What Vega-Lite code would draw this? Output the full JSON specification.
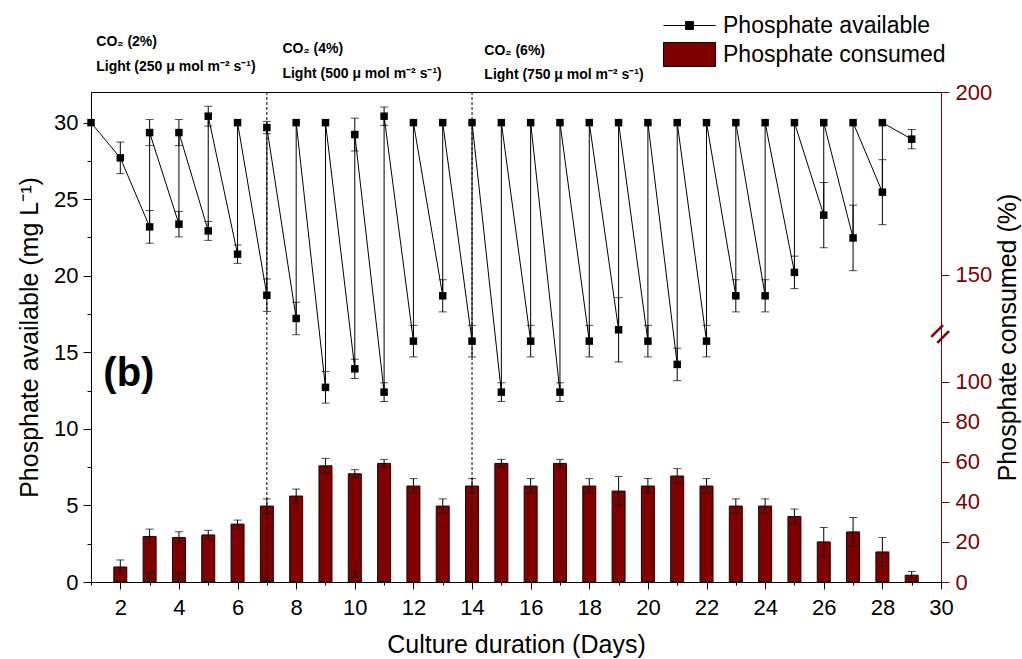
{
  "$schema": "https://vega.github.io/schema/vega-lite/v6.json",
  "width": 850,
  "height": 490,
  "autosize": "none",
  "padding": {"left": 91, "top": 92, "right": 81, "bottom": 77},
  "config": {
    "font": "Liberation Sans",
    "view": {"stroke": "black", "strokeWidth": 1},
    "axis": {
      "grid": false,
      "labelFontSize": 22,
      "titleFontSize": 25,
      "titleFontWeight": "normal",
      "labelColor": "black",
      "titleColor": "black",
      "tickColor": "black",
      "domainColor": "black",
      "labelOverlap": false,
      "labelFlush": false,
      "labelBound": false
    }
  },
  "datasets": {
    "available": [
      {"n": 1, "day": 1, "p": 30.0, "err": 0},
      {"n": 2, "day": 2, "p": 27.70, "err": 1.03},
      {"n": 3, "day": 3, "p": 23.19, "err": 1.07},
      {"n": 4, "day": 3, "p": 29.35, "err": 0.85},
      {"n": 5, "day": 4, "p": 23.37, "err": 0.83},
      {"n": 6, "day": 4, "p": 29.35, "err": 0.85},
      {"n": 7, "day": 5, "p": 22.93, "err": 0.62},
      {"n": 8, "day": 5, "p": 30.42, "err": 0.65},
      {"n": 9, "day": 6, "p": 21.41, "err": 0.60},
      {"n": 10, "day": 6, "p": 30.0, "err": 0},
      {"n": 11, "day": 7, "p": 18.73, "err": 1.06},
      {"n": 12, "day": 7, "p": 29.68, "err": 0.40},
      {"n": 13, "day": 8, "p": 17.21, "err": 1.06},
      {"n": 14, "day": 8, "p": 30.0, "err": 0},
      {"n": 15, "day": 9, "p": 12.71, "err": 1.03},
      {"n": 16, "day": 9, "p": 30.0, "err": 0},
      {"n": 17, "day": 10, "p": 13.92, "err": 0.63},
      {"n": 18, "day": 10, "p": 29.22, "err": 1.07},
      {"n": 19, "day": 11, "p": 12.40, "err": 0.61},
      {"n": 20, "day": 11, "p": 30.42, "err": 0.60},
      {"n": 21, "day": 12, "p": 15.73, "err": 1.03},
      {"n": 22, "day": 12, "p": 30.0, "err": 0},
      {"n": 23, "day": 13, "p": 18.69, "err": 1.05},
      {"n": 24, "day": 13, "p": 30.0, "err": 0},
      {"n": 25, "day": 14, "p": 15.73, "err": 1.03},
      {"n": 26, "day": 14, "p": 30.0, "err": 0},
      {"n": 27, "day": 15, "p": 12.40, "err": 0.61},
      {"n": 28, "day": 15, "p": 30.0, "err": 0},
      {"n": 29, "day": 16, "p": 15.73, "err": 1.03},
      {"n": 30, "day": 16, "p": 30.0, "err": 0},
      {"n": 31, "day": 17, "p": 12.40, "err": 0.61},
      {"n": 32, "day": 17, "p": 30.0, "err": 0},
      {"n": 33, "day": 18, "p": 15.73, "err": 1.03},
      {"n": 34, "day": 18, "p": 30.0, "err": 0},
      {"n": 35, "day": 19, "p": 16.47, "err": 2.10},
      {"n": 36, "day": 19, "p": 30.0, "err": 0},
      {"n": 37, "day": 20, "p": 15.73, "err": 1.03},
      {"n": 38, "day": 20, "p": 30.0, "err": 0},
      {"n": 39, "day": 21, "p": 14.21, "err": 1.06},
      {"n": 40, "day": 21, "p": 30.0, "err": 0},
      {"n": 41, "day": 22, "p": 15.73, "err": 1.03},
      {"n": 42, "day": 22, "p": 30.0, "err": 0},
      {"n": 43, "day": 23, "p": 18.69, "err": 1.05},
      {"n": 44, "day": 23, "p": 30.0, "err": 0},
      {"n": 45, "day": 24, "p": 18.69, "err": 1.05},
      {"n": 46, "day": 24, "p": 30.0, "err": 0},
      {"n": 47, "day": 25, "p": 20.22, "err": 1.06},
      {"n": 48, "day": 25, "p": 30.0, "err": 0},
      {"n": 49, "day": 26, "p": 23.96, "err": 2.13},
      {"n": 50, "day": 26, "p": 30.0, "err": 0},
      {"n": 51, "day": 27, "p": 22.47, "err": 2.14},
      {"n": 52, "day": 27, "p": 30.0, "err": 0},
      {"n": 53, "day": 28, "p": 25.46, "err": 2.12},
      {"n": 54, "day": 28, "p": 30.0, "err": 0},
      {"n": 55, "day": 29, "p": 28.92, "err": 0.63}
    ],
    "consumed": [
      {"day": 2, "c": 7.5, "err": 3.5, "phase": "uptake"},
      {"day": 3, "c": 22.7, "err": 3.7, "phase": "uptake"},
      {"day": 4, "c": 22.2, "err": 2.9, "phase": "uptake"},
      {"day": 5, "c": 23.5, "err": 2.3, "phase": "uptake"},
      {"day": 6, "c": 28.9, "err": 2.0, "phase": "uptake"},
      {"day": 7, "c": 37.9, "err": 3.6, "phase": "uptake"},
      {"day": 8, "c": 42.9, "err": 3.5, "phase": "uptake"},
      {"day": 9, "c": 58.0, "err": 3.7, "phase": "uptake"},
      {"day": 10, "c": 54.0, "err": 2.1, "phase": "uptake"},
      {"day": 11, "c": 59.2, "err": 2.0, "phase": "uptake"},
      {"day": 12, "c": 47.9, "err": 3.7, "phase": "uptake"},
      {"day": 13, "c": 37.9, "err": 3.6, "phase": "uptake"},
      {"day": 14, "c": 47.9, "err": 3.7, "phase": "uptake"},
      {"day": 15, "c": 59.2, "err": 2.0, "phase": "uptake"},
      {"day": 16, "c": 47.9, "err": 3.7, "phase": "uptake"},
      {"day": 17, "c": 59.2, "err": 2.0, "phase": "uptake"},
      {"day": 18, "c": 47.9, "err": 3.7, "phase": "uptake"},
      {"day": 19, "c": 45.4, "err": 7.3, "phase": "uptake"},
      {"day": 20, "c": 47.9, "err": 3.7, "phase": "uptake"},
      {"day": 21, "c": 52.9, "err": 3.7, "phase": "uptake"},
      {"day": 22, "c": 47.9, "err": 3.7, "phase": "uptake"},
      {"day": 23, "c": 37.9, "err": 3.6, "phase": "uptake"},
      {"day": 24, "c": 37.9, "err": 3.6, "phase": "uptake"},
      {"day": 25, "c": 32.7, "err": 3.7, "phase": "uptake"},
      {"day": 26, "c": 20.0, "err": 7.2, "phase": "uptake"},
      {"day": 27, "c": 25.0, "err": 7.2, "phase": "uptake"},
      {"day": 28, "c": 15.0, "err": 7.2, "phase": "uptake"},
      {"day": 29, "c": 3.4, "err": 1.9, "phase": "uptake"},
      {"day": 3, "c": 3.2, "err": 1.5, "phase": "refill"},
      {"day": 4, "c": 3.2, "err": 1.5, "phase": "refill"},
      {"day": 7, "c": 1.4, "err": 0.75, "phase": "refill"},
      {"day": 10, "c": 4.0, "err": 1.65, "phase": "refill"}
    ],
    "notes": [
      {"day": 1.18, "level": 35.25, "label": "CO₂ (2%)"},
      {"day": 1.18, "level": 33.62, "label": "Light (250 μ mol m⁻² s⁻¹)"},
      {"day": 7.53, "level": 34.79, "label": "CO₂ (4%)"},
      {"day": 7.53, "level": 33.16, "label": "Light (500 μ mol m⁻² s⁻¹)"},
      {"day": 14.42, "level": 34.66, "label": "CO₂ (6%)"},
      {"day": 14.42, "level": 33.09, "label": "Light (750 μ mol m⁻² s⁻¹)"}
    ]
  },
  "encoding": {
    "x": {
      "field": "day",
      "type": "quantitative",
      "scale": {"domain": [1, 30], "nice": false, "zero": false, "padding": 0},
      "axis": {
        "title": "Culture duration (Days)",
        "values": [1, 2, 3, 4, 5, 6, 7, 8, 9, 10, 11, 12, 13, 14, 15, 16, 17, 18, 19, 20, 21, 22, 23, 24, 25, 26, 27, 28, 29, 30],
        "labelExpr": "datum.value % 2 == 0 ? datum.label : ''",
        "tickSize": {"condition": {"test": "datum.value % 2 == 1", "value": 3}, "value": 7},
        "labelPadding": 8,
        "titlePadding": 14
      }
    }
  },
  "layer": [
    {
      "data": {"name": "consumed"},
      "layer": [
        {
          "transform": [{"filter": "datum.phase == 'uptake'"}],
          "mark": {"type": "bar", "size": 13, "stroke": "#1a0505", "strokeWidth": 1},
          "encoding": {
            "y": {
              "field": "c",
              "type": "quantitative",
              "title": "Phosphate consumed (%)",
              "stack": null,
              "scale": {"domain": [0, 123.3, 133.6, 200], "range": [490, 243, 243, 0], "nice": false, "zero": false},
              "axis": {
                "orient": "right",
                "values": [0, 10, 20, 30, 40, 50, 60, 70, 80, 90, 100, 110, 150, 175, 200],
                "labelExpr": "indexof([0, 20, 40, 60, 80, 100, 150, 200], datum.value) >= 0 ? datum.label : ''",
                "tickSize": {"condition": {"test": "indexof([0, 20, 40, 60, 80, 100, 150, 200], datum.value) < 0", "value": 4}, "value": 8},
                "domainColor": "#800000",
                "tickColor": "#800000",
                "labelColor": "#800000",
                "labelPadding": 6,
                "titleAngle": 270,
                "titleBaseline": "top",
                "titlePadding": 4
              }
            },
            "color": {
              "datum": "Phosphate consumed",
              "scale": {"domain": ["Phosphate available", "Phosphate consumed"], "range": ["black", "#800000"]},
              "legend": {
                "title": null,
                "orient": "none",
                "legendX": 572,
                "legendY": -79,
                "padding": 0,
                "labelFontSize": 23,
                "labelColor": "black",
                "labelLimit": 400,
                "symbolSize": 576,
                "symbolType": {"expr": "datum.value == 'Phosphate available' ? 'M-2.17,0H2.17M-0.33,-0.33H0.33V0.33H-0.33Z' : 'M-2.17,-1H2.17V1H-2.17Z'"},
                "symbolStrokeColor": "black",
                "symbolStrokeWidth": 1,
                "symbolOffset": 14,
                "labelOffset": 21,
                "rowPadding": 2
              }
            }
          }
        },
        {
          "mark": {"type": "errorbar", "ticks": {"size": 8}, "color": "black", "thickness": 1},
          "encoding": {
            "y": {"field": "c", "type": "quantitative", "title": "Phosphate consumed (%)", "scale": {"domain": [0, 123.3, 133.6, 200], "range": [490, 243, 243, 0], "nice": false, "zero": false}},
            "yError": {"field": "err"}
          }
        },
        {
          "data": {"values": [{"day": 30, "c": 128.5, "glyph": "="}]},
          "mark": {"type": "text", "angle": 315, "fontSize": 34, "color": "#800000", "align": "center", "baseline": "middle"},
          "encoding": {
            "y": {"field": "c", "type": "quantitative", "title": "Phosphate consumed (%)", "scale": {"domain": [0, 123.3, 133.6, 200], "range": [490, 243, 243, 0], "nice": false, "zero": false}},
            "text": {"field": "glyph"}
          }
        }
      ]
    },
    {
      "data": {"values": [{"day": 7}, {"day": 14}]},
      "mark": {"type": "rule", "color": "black", "strokeWidth": 1, "strokeDash": [3, 2]},
      "encoding": {}
    },
    {
      "layer": [
        {
          "data": {"name": "available"},
          "mark": {"type": "line", "color": "black", "strokeWidth": 1},
          "encoding": {
            "y": {
              "field": "p",
              "type": "quantitative",
              "title": "Phosphate available (mg L⁻¹)",
              "scale": {"domain": [0, 32], "nice": false, "zero": false},
              "axis": {
                "orient": "left",
                "values": [0, 2.5, 5, 7.5, 10, 12.5, 15, 17.5, 20, 22.5, 25, 27.5, 30],
                "labelExpr": "datum.value % 5 == 0 ? datum.label : ''",
                "tickSize": {"condition": {"test": "datum.value % 5 != 0", "value": 4}, "value": 8},
                "labelPadding": 5,
                "titlePadding": 11
              }
            },
            "order": {"field": "n", "type": "quantitative"}
          }
        },
        {
          "data": {"name": "available"},
          "transform": [{"filter": "datum.err > 0"}],
          "mark": {"type": "errorbar", "ticks": {"size": 8}, "color": "black", "thickness": 1},
          "encoding": {
            "y": {"field": "p", "type": "quantitative", "title": "Phosphate available (mg L⁻¹)", "scale": {"domain": [0, 32], "nice": false, "zero": false}},
            "yError": {"field": "err"}
          }
        },
        {
          "data": {"name": "available"},
          "mark": {"type": "point", "shape": "square", "filled": true, "size": 56, "color": "black", "opacity": 1},
          "encoding": {
            "y": {"field": "p", "type": "quantitative", "title": "Phosphate available (mg L⁻¹)", "scale": {"domain": [0, 32], "nice": false, "zero": false}}
          }
        },
        {
          "data": {"name": "notes"},
          "mark": {"type": "text", "align": "left", "baseline": "middle", "fontWeight": "bold", "fontSize": 14, "color": "black"},
          "encoding": {
            "y": {"field": "level", "type": "quantitative", "title": "Phosphate available (mg L⁻¹)", "scale": {"domain": [0, 32], "nice": false, "zero": false}},
            "text": {"field": "label"}
          }
        },
        {
          "data": {"values": [{"day": 1.42, "level": 13.58, "label": "(b)"}]},
          "mark": {"type": "text", "align": "left", "baseline": "middle", "fontWeight": "bold", "fontSize": 40, "color": "black"},
          "encoding": {
            "y": {"field": "level", "type": "quantitative", "title": "Phosphate available (mg L⁻¹)", "scale": {"domain": [0, 32], "nice": false, "zero": false}},
            "text": {"field": "label"}
          }
        }
      ]
    }
  ],
  "resolve": {"scale": {"y": "independent"}, "axis": {"y": "independent"}}
}
